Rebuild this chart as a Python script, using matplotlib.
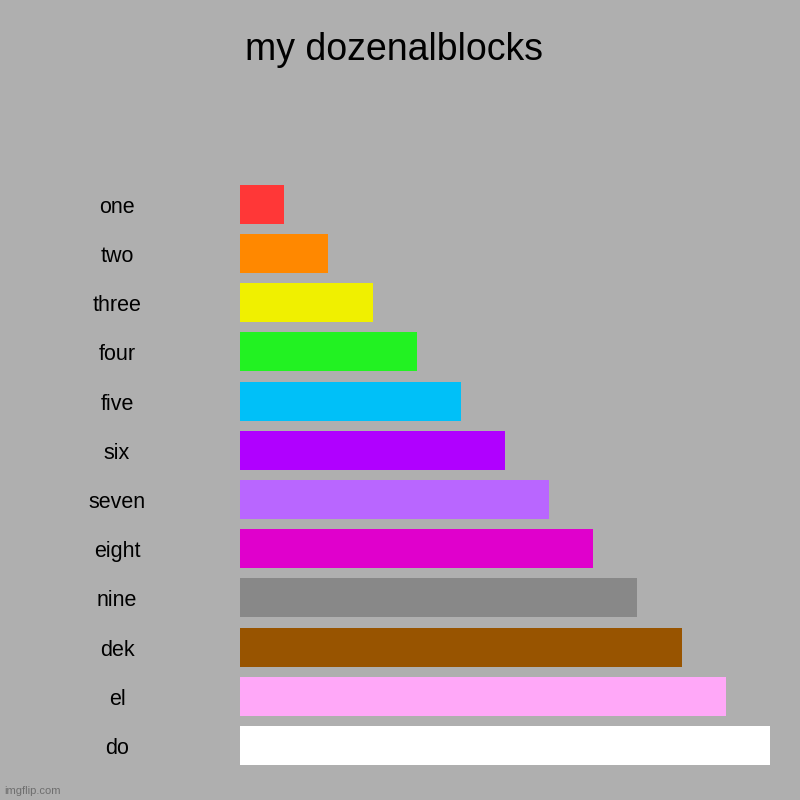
import matplotlib.pyplot as plt
import matplotlib.transforms as mtransforms

plt.rcParams['font.family'] = ['Liberation Sans', 'DejaVu Sans']

labels = ['one', 'two', 'three', 'four', 'five', 'six',
          'seven', 'eight', 'nine', 'dek', 'el', 'do']
values = [1, 2, 3, 4, 5, 6, 7, 8, 9, 10, 11, 12]
colors = ['#ff3737', '#ff8800', '#f0f000', '#22f222', '#00c0f8', '#b000ff',
          '#b966ff', '#e000cc', '#888888', '#985400', '#ffa8f8', '#ffffff']

bg = '#afafaf'
fig = plt.figure(figsize=(8, 8), dpi=100, facecolor=bg)
ax = fig.add_axes([0.3, 0.0374, 0.6625, 0.7378])
ax.set_facecolor(bg)

y = list(range(len(labels)))
ax.barh(y, values, height=0.793, color=colors)
ax.set_xlim(0, 12)
ax.set_ylim(len(labels) - 0.5, -0.5)

# labels: x in figure fraction, y in data
trans = mtransforms.blended_transform_factory(fig.transFigure, ax.transData)
for i, lab in enumerate(labels):
    ax.text(117 / 800, i + 0.06, lab, transform=trans, ha='center', va='center',
            fontsize=15.5, color='black')

for s in ax.spines.values():
    s.set_visible(False)
ax.set_xticks([])
ax.set_yticks([])

fig.text(394 / 800, 1 - 50 / 800, 'my dozenalblocks', ha='center', va='center',
         fontsize=27, color='black')
fig.text(4 / 800, 1 - 791 / 800, 'imgflip.com', ha='left', va='center',
         fontsize=8, color='#6e6e6e')

fig.savefig('out.png', dpi=100, facecolor=bg)
